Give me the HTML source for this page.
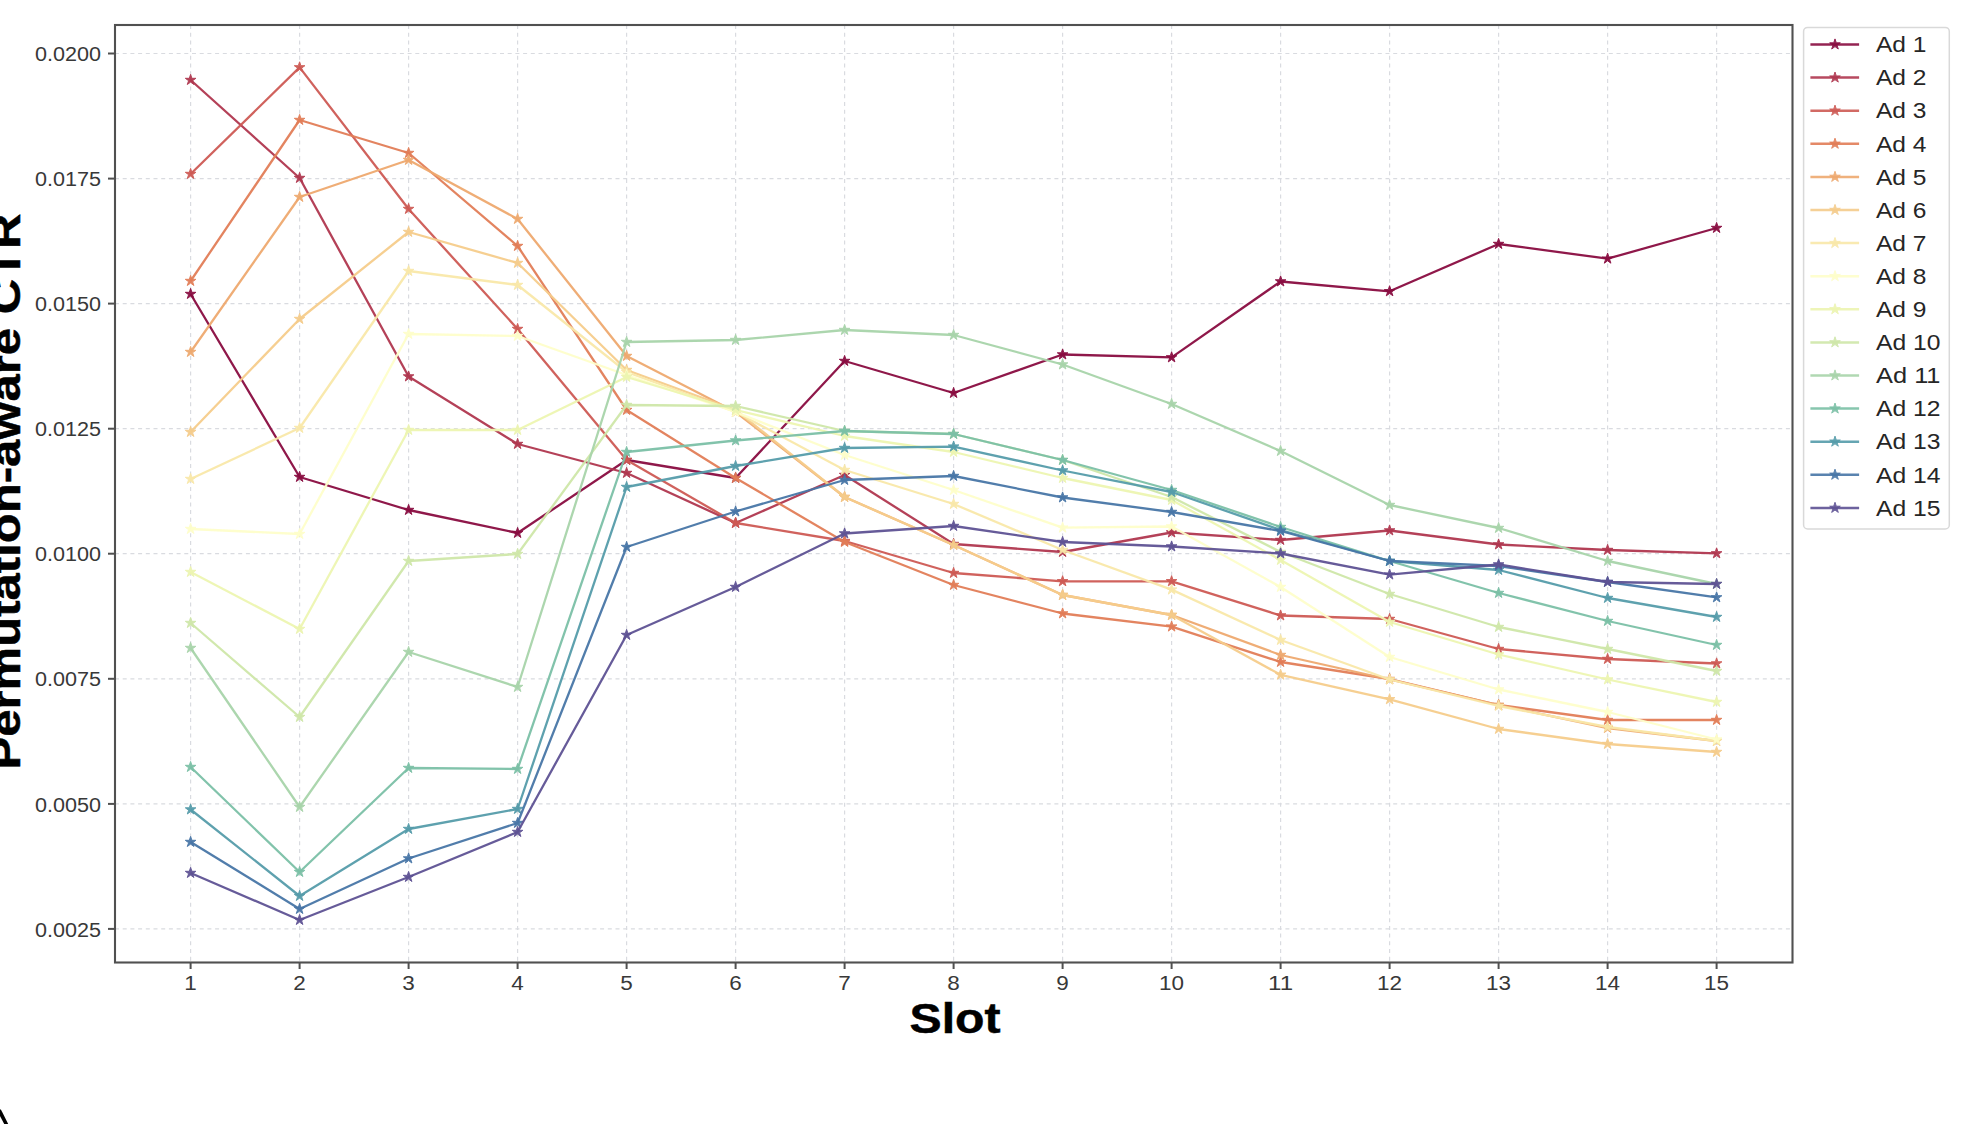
<!DOCTYPE html>
<html><head><meta charset="utf-8"><style>
html,body{margin:0;padding:0;background:#fff;}
body{width:1970px;height:1124px;position:relative;overflow:hidden;font-family:"Liberation Sans",sans-serif;}
</style></head><body>
<svg width="1970" height="1124" viewBox="0 0 1970 1124" style="position:absolute;left:0;top:0">
<g>
<g stroke="#d9dbe0" stroke-width="1.2" stroke-dasharray="4,3.7" fill="none"><line x1="190.6" y1="25" x2="190.6" y2="962"/><line x1="299.6" y1="25" x2="299.6" y2="962"/><line x1="408.6" y1="25" x2="408.6" y2="962"/><line x1="517.6" y1="25" x2="517.6" y2="962"/><line x1="626.6" y1="25" x2="626.6" y2="962"/><line x1="735.6" y1="25" x2="735.6" y2="962"/><line x1="844.6" y1="25" x2="844.6" y2="962"/><line x1="953.6" y1="25" x2="953.6" y2="962"/><line x1="1062.6" y1="25" x2="1062.6" y2="962"/><line x1="1171.6" y1="25" x2="1171.6" y2="962"/><line x1="1280.6" y1="25" x2="1280.6" y2="962"/><line x1="1389.6" y1="25" x2="1389.6" y2="962"/><line x1="1498.6" y1="25" x2="1498.6" y2="962"/><line x1="1607.6" y1="25" x2="1607.6" y2="962"/><line x1="1716.6" y1="25" x2="1716.6" y2="962"/><line x1="115" y1="928.9" x2="1792.5" y2="928.9"/><line x1="115" y1="803.9" x2="1792.5" y2="803.9"/><line x1="115" y1="678.8" x2="1792.5" y2="678.8"/><line x1="115" y1="553.7" x2="1792.5" y2="553.7"/><line x1="115" y1="428.7" x2="1792.5" y2="428.7"/><line x1="115" y1="303.6" x2="1792.5" y2="303.6"/><line x1="115" y1="178.6" x2="1792.5" y2="178.6"/><line x1="115" y1="53.5" x2="1792.5" y2="53.5"/></g>
<polyline points="190.6,294.0 299.6,477.0 408.6,510.0 517.6,533.0 626.6,460.0 735.6,478.0 844.6,361.0 953.6,393.0 1062.6,354.5 1171.6,357.4 1280.6,281.5 1389.6,291.3 1498.6,244.0 1607.6,258.7 1716.6,228.0" fill="none" stroke="#890c40" stroke-width="2.3" stroke-linejoin="round" opacity="0.95"/>
<path d="M190.6,288.4 L189.3,292.3 L185.3,292.3 L188.6,294.7 L187.3,298.5 L190.6,296.1 L193.9,298.5 L192.6,294.7 L195.9,292.3 L191.9,292.3ZM299.6,471.4 L298.3,475.3 L294.3,475.3 L297.6,477.7 L296.3,481.5 L299.6,479.1 L302.9,481.5 L301.6,477.7 L304.9,475.3 L300.9,475.3ZM408.6,504.4 L407.3,508.3 L403.3,508.3 L406.6,510.7 L405.3,514.5 L408.6,512.1 L411.9,514.5 L410.6,510.7 L413.9,508.3 L409.9,508.3ZM517.6,527.4 L516.3,531.3 L512.3,531.3 L515.6,533.7 L514.3,537.5 L517.6,535.1 L520.9,537.5 L519.6,533.7 L522.9,531.3 L518.9,531.3ZM626.6,454.4 L625.3,458.3 L621.3,458.3 L624.6,460.7 L623.3,464.5 L626.6,462.1 L629.9,464.5 L628.6,460.7 L631.9,458.3 L627.9,458.3ZM735.6,472.4 L734.3,476.3 L730.3,476.3 L733.6,478.7 L732.3,482.5 L735.6,480.1 L738.9,482.5 L737.6,478.7 L740.9,476.3 L736.9,476.3ZM844.6,355.4 L843.3,359.3 L839.3,359.3 L842.6,361.7 L841.3,365.5 L844.6,363.1 L847.9,365.5 L846.6,361.7 L849.9,359.3 L845.9,359.3ZM953.6,387.4 L952.3,391.3 L948.3,391.3 L951.6,393.7 L950.3,397.5 L953.6,395.1 L956.9,397.5 L955.6,393.7 L958.9,391.3 L954.9,391.3ZM1062.6,348.9 L1061.3,352.8 L1057.3,352.8 L1060.6,355.2 L1059.3,359.0 L1062.6,356.6 L1065.9,359.0 L1064.6,355.2 L1067.9,352.8 L1063.9,352.8ZM1171.6,351.8 L1170.3,355.7 L1166.3,355.7 L1169.6,358.1 L1168.3,361.9 L1171.6,359.5 L1174.9,361.9 L1173.6,358.1 L1176.9,355.7 L1172.9,355.7ZM1280.6,275.9 L1279.3,279.8 L1275.3,279.8 L1278.6,282.2 L1277.3,286.0 L1280.6,283.6 L1283.9,286.0 L1282.6,282.2 L1285.9,279.8 L1281.9,279.8ZM1389.6,285.7 L1388.3,289.6 L1384.3,289.6 L1387.6,292.0 L1386.3,295.8 L1389.6,293.4 L1392.9,295.8 L1391.6,292.0 L1394.9,289.6 L1390.9,289.6ZM1498.6,238.4 L1497.3,242.3 L1493.3,242.3 L1496.6,244.7 L1495.3,248.5 L1498.6,246.1 L1501.9,248.5 L1500.6,244.7 L1503.9,242.3 L1499.9,242.3ZM1607.6,253.1 L1606.3,257.0 L1602.3,257.0 L1605.6,259.4 L1604.3,263.2 L1607.6,260.8 L1610.9,263.2 L1609.6,259.4 L1612.9,257.0 L1608.9,257.0ZM1716.6,222.4 L1715.3,226.3 L1711.3,226.3 L1714.6,228.7 L1713.3,232.5 L1716.6,230.1 L1719.9,232.5 L1718.6,228.7 L1721.9,226.3 L1717.9,226.3Z" fill="#890c40" stroke="#890c40" stroke-width="1" opacity="0.95"/>
<polyline points="190.6,80.0 299.6,178.0 408.6,376.5 517.6,444.0 626.6,473.0 735.6,523.0 844.6,475.0 953.6,544.0 1062.6,552.0 1171.6,532.5 1280.6,540.0 1389.6,530.5 1498.6,544.5 1607.6,550.0 1716.6,553.4" fill="none" stroke="#b0374f" stroke-width="2.3" stroke-linejoin="round" opacity="0.95"/>
<path d="M190.6,74.4 L189.3,78.3 L185.3,78.3 L188.6,80.7 L187.3,84.5 L190.6,82.1 L193.9,84.5 L192.6,80.7 L195.9,78.3 L191.9,78.3ZM299.6,172.4 L298.3,176.3 L294.3,176.3 L297.6,178.7 L296.3,182.5 L299.6,180.1 L302.9,182.5 L301.6,178.7 L304.9,176.3 L300.9,176.3ZM408.6,370.9 L407.3,374.8 L403.3,374.8 L406.6,377.2 L405.3,381.0 L408.6,378.6 L411.9,381.0 L410.6,377.2 L413.9,374.8 L409.9,374.8ZM517.6,438.4 L516.3,442.3 L512.3,442.3 L515.6,444.7 L514.3,448.5 L517.6,446.1 L520.9,448.5 L519.6,444.7 L522.9,442.3 L518.9,442.3ZM626.6,467.4 L625.3,471.3 L621.3,471.3 L624.6,473.7 L623.3,477.5 L626.6,475.1 L629.9,477.5 L628.6,473.7 L631.9,471.3 L627.9,471.3ZM735.6,517.4 L734.3,521.3 L730.3,521.3 L733.6,523.7 L732.3,527.5 L735.6,525.1 L738.9,527.5 L737.6,523.7 L740.9,521.3 L736.9,521.3ZM844.6,469.4 L843.3,473.3 L839.3,473.3 L842.6,475.7 L841.3,479.5 L844.6,477.1 L847.9,479.5 L846.6,475.7 L849.9,473.3 L845.9,473.3ZM953.6,538.4 L952.3,542.3 L948.3,542.3 L951.6,544.7 L950.3,548.5 L953.6,546.1 L956.9,548.5 L955.6,544.7 L958.9,542.3 L954.9,542.3ZM1062.6,546.4 L1061.3,550.3 L1057.3,550.3 L1060.6,552.7 L1059.3,556.5 L1062.6,554.1 L1065.9,556.5 L1064.6,552.7 L1067.9,550.3 L1063.9,550.3ZM1171.6,526.9 L1170.3,530.8 L1166.3,530.8 L1169.6,533.2 L1168.3,537.0 L1171.6,534.6 L1174.9,537.0 L1173.6,533.2 L1176.9,530.8 L1172.9,530.8ZM1280.6,534.4 L1279.3,538.3 L1275.3,538.3 L1278.6,540.7 L1277.3,544.5 L1280.6,542.1 L1283.9,544.5 L1282.6,540.7 L1285.9,538.3 L1281.9,538.3ZM1389.6,524.9 L1388.3,528.8 L1384.3,528.8 L1387.6,531.2 L1386.3,535.0 L1389.6,532.6 L1392.9,535.0 L1391.6,531.2 L1394.9,528.8 L1390.9,528.8ZM1498.6,538.9 L1497.3,542.8 L1493.3,542.8 L1496.6,545.2 L1495.3,549.0 L1498.6,546.6 L1501.9,549.0 L1500.6,545.2 L1503.9,542.8 L1499.9,542.8ZM1607.6,544.4 L1606.3,548.3 L1602.3,548.3 L1605.6,550.7 L1604.3,554.5 L1607.6,552.1 L1610.9,554.5 L1609.6,550.7 L1612.9,548.3 L1608.9,548.3ZM1716.6,547.8 L1715.3,551.7 L1711.3,551.7 L1714.6,554.1 L1713.3,557.9 L1716.6,555.5 L1719.9,557.9 L1718.6,554.1 L1721.9,551.7 L1717.9,551.7Z" fill="#b0374f" stroke="#b0374f" stroke-width="1" opacity="0.95"/>
<polyline points="190.6,174.0 299.6,67.4 408.6,209.0 517.6,329.0 626.6,460.0 735.6,523.0 844.6,541.0 953.6,573.0 1062.6,581.3 1171.6,581.3 1280.6,615.5 1389.6,619.0 1498.6,649.0 1607.6,659.0 1716.6,663.5" fill="none" stroke="#ce5a54" stroke-width="2.3" stroke-linejoin="round" opacity="0.95"/>
<path d="M190.6,168.4 L189.3,172.3 L185.3,172.3 L188.6,174.7 L187.3,178.5 L190.6,176.1 L193.9,178.5 L192.6,174.7 L195.9,172.3 L191.9,172.3ZM299.6,61.8 L298.3,65.7 L294.3,65.7 L297.6,68.1 L296.3,71.9 L299.6,69.5 L302.9,71.9 L301.6,68.1 L304.9,65.7 L300.9,65.7ZM408.6,203.4 L407.3,207.3 L403.3,207.3 L406.6,209.7 L405.3,213.5 L408.6,211.1 L411.9,213.5 L410.6,209.7 L413.9,207.3 L409.9,207.3ZM517.6,323.4 L516.3,327.3 L512.3,327.3 L515.6,329.7 L514.3,333.5 L517.6,331.1 L520.9,333.5 L519.6,329.7 L522.9,327.3 L518.9,327.3ZM626.6,454.4 L625.3,458.3 L621.3,458.3 L624.6,460.7 L623.3,464.5 L626.6,462.1 L629.9,464.5 L628.6,460.7 L631.9,458.3 L627.9,458.3ZM735.6,517.4 L734.3,521.3 L730.3,521.3 L733.6,523.7 L732.3,527.5 L735.6,525.1 L738.9,527.5 L737.6,523.7 L740.9,521.3 L736.9,521.3ZM844.6,535.4 L843.3,539.3 L839.3,539.3 L842.6,541.7 L841.3,545.5 L844.6,543.1 L847.9,545.5 L846.6,541.7 L849.9,539.3 L845.9,539.3ZM953.6,567.4 L952.3,571.3 L948.3,571.3 L951.6,573.7 L950.3,577.5 L953.6,575.1 L956.9,577.5 L955.6,573.7 L958.9,571.3 L954.9,571.3ZM1062.6,575.7 L1061.3,579.6 L1057.3,579.6 L1060.6,582.0 L1059.3,585.8 L1062.6,583.4 L1065.9,585.8 L1064.6,582.0 L1067.9,579.6 L1063.9,579.6ZM1171.6,575.7 L1170.3,579.6 L1166.3,579.6 L1169.6,582.0 L1168.3,585.8 L1171.6,583.4 L1174.9,585.8 L1173.6,582.0 L1176.9,579.6 L1172.9,579.6ZM1280.6,609.9 L1279.3,613.8 L1275.3,613.8 L1278.6,616.2 L1277.3,620.0 L1280.6,617.6 L1283.9,620.0 L1282.6,616.2 L1285.9,613.8 L1281.9,613.8ZM1389.6,613.4 L1388.3,617.3 L1384.3,617.3 L1387.6,619.7 L1386.3,623.5 L1389.6,621.1 L1392.9,623.5 L1391.6,619.7 L1394.9,617.3 L1390.9,617.3ZM1498.6,643.4 L1497.3,647.3 L1493.3,647.3 L1496.6,649.7 L1495.3,653.5 L1498.6,651.1 L1501.9,653.5 L1500.6,649.7 L1503.9,647.3 L1499.9,647.3ZM1607.6,653.4 L1606.3,657.3 L1602.3,657.3 L1605.6,659.7 L1604.3,663.5 L1607.6,661.1 L1610.9,663.5 L1609.6,659.7 L1612.9,657.3 L1608.9,657.3ZM1716.6,657.9 L1715.3,661.8 L1711.3,661.8 L1714.6,664.2 L1713.3,668.0 L1716.6,665.6 L1719.9,668.0 L1718.6,664.2 L1721.9,661.8 L1717.9,661.8Z" fill="#ce5a54" stroke="#ce5a54" stroke-width="1" opacity="0.95"/>
<polyline points="190.6,281.0 299.6,120.0 408.6,153.0 517.6,246.0 626.6,410.0 735.6,478.0 844.6,542.0 953.6,585.0 1062.6,613.5 1171.6,626.6 1280.6,662.0 1389.6,679.0 1498.6,705.0 1607.6,720.0 1716.6,720.0" fill="none" stroke="#e27d57" stroke-width="2.3" stroke-linejoin="round" opacity="0.95"/>
<path d="M190.6,275.4 L189.3,279.3 L185.3,279.3 L188.6,281.7 L187.3,285.5 L190.6,283.1 L193.9,285.5 L192.6,281.7 L195.9,279.3 L191.9,279.3ZM299.6,114.4 L298.3,118.3 L294.3,118.3 L297.6,120.7 L296.3,124.5 L299.6,122.1 L302.9,124.5 L301.6,120.7 L304.9,118.3 L300.9,118.3ZM408.6,147.4 L407.3,151.3 L403.3,151.3 L406.6,153.7 L405.3,157.5 L408.6,155.1 L411.9,157.5 L410.6,153.7 L413.9,151.3 L409.9,151.3ZM517.6,240.4 L516.3,244.3 L512.3,244.3 L515.6,246.7 L514.3,250.5 L517.6,248.1 L520.9,250.5 L519.6,246.7 L522.9,244.3 L518.9,244.3ZM626.6,404.4 L625.3,408.3 L621.3,408.3 L624.6,410.7 L623.3,414.5 L626.6,412.1 L629.9,414.5 L628.6,410.7 L631.9,408.3 L627.9,408.3ZM735.6,472.4 L734.3,476.3 L730.3,476.3 L733.6,478.7 L732.3,482.5 L735.6,480.1 L738.9,482.5 L737.6,478.7 L740.9,476.3 L736.9,476.3ZM844.6,536.4 L843.3,540.3 L839.3,540.3 L842.6,542.7 L841.3,546.5 L844.6,544.1 L847.9,546.5 L846.6,542.7 L849.9,540.3 L845.9,540.3ZM953.6,579.4 L952.3,583.3 L948.3,583.3 L951.6,585.7 L950.3,589.5 L953.6,587.1 L956.9,589.5 L955.6,585.7 L958.9,583.3 L954.9,583.3ZM1062.6,607.9 L1061.3,611.8 L1057.3,611.8 L1060.6,614.2 L1059.3,618.0 L1062.6,615.6 L1065.9,618.0 L1064.6,614.2 L1067.9,611.8 L1063.9,611.8ZM1171.6,621.0 L1170.3,624.9 L1166.3,624.9 L1169.6,627.3 L1168.3,631.1 L1171.6,628.7 L1174.9,631.1 L1173.6,627.3 L1176.9,624.9 L1172.9,624.9ZM1280.6,656.4 L1279.3,660.3 L1275.3,660.3 L1278.6,662.7 L1277.3,666.5 L1280.6,664.1 L1283.9,666.5 L1282.6,662.7 L1285.9,660.3 L1281.9,660.3ZM1389.6,673.4 L1388.3,677.3 L1384.3,677.3 L1387.6,679.7 L1386.3,683.5 L1389.6,681.1 L1392.9,683.5 L1391.6,679.7 L1394.9,677.3 L1390.9,677.3ZM1498.6,699.4 L1497.3,703.3 L1493.3,703.3 L1496.6,705.7 L1495.3,709.5 L1498.6,707.1 L1501.9,709.5 L1500.6,705.7 L1503.9,703.3 L1499.9,703.3ZM1607.6,714.4 L1606.3,718.3 L1602.3,718.3 L1605.6,720.7 L1604.3,724.5 L1607.6,722.1 L1610.9,724.5 L1609.6,720.7 L1612.9,718.3 L1608.9,718.3ZM1716.6,714.4 L1715.3,718.3 L1711.3,718.3 L1714.6,720.7 L1713.3,724.5 L1716.6,722.1 L1719.9,724.5 L1718.6,720.7 L1721.9,718.3 L1717.9,718.3Z" fill="#e27d57" stroke="#e27d57" stroke-width="1" opacity="0.95"/>
<polyline points="190.6,352.0 299.6,197.0 408.6,160.0 517.6,219.0 626.6,356.0 735.6,412.0 844.6,497.0 953.6,545.0 1062.6,595.0 1171.6,615.0 1280.6,655.0 1389.6,679.5 1498.6,705.0 1607.6,728.0 1716.6,741.0" fill="none" stroke="#eea96f" stroke-width="2.3" stroke-linejoin="round" opacity="0.95"/>
<path d="M190.6,346.4 L189.3,350.3 L185.3,350.3 L188.6,352.7 L187.3,356.5 L190.6,354.1 L193.9,356.5 L192.6,352.7 L195.9,350.3 L191.9,350.3ZM299.6,191.4 L298.3,195.3 L294.3,195.3 L297.6,197.7 L296.3,201.5 L299.6,199.1 L302.9,201.5 L301.6,197.7 L304.9,195.3 L300.9,195.3ZM408.6,154.4 L407.3,158.3 L403.3,158.3 L406.6,160.7 L405.3,164.5 L408.6,162.1 L411.9,164.5 L410.6,160.7 L413.9,158.3 L409.9,158.3ZM517.6,213.4 L516.3,217.3 L512.3,217.3 L515.6,219.7 L514.3,223.5 L517.6,221.1 L520.9,223.5 L519.6,219.7 L522.9,217.3 L518.9,217.3ZM626.6,350.4 L625.3,354.3 L621.3,354.3 L624.6,356.7 L623.3,360.5 L626.6,358.1 L629.9,360.5 L628.6,356.7 L631.9,354.3 L627.9,354.3ZM735.6,406.4 L734.3,410.3 L730.3,410.3 L733.6,412.7 L732.3,416.5 L735.6,414.1 L738.9,416.5 L737.6,412.7 L740.9,410.3 L736.9,410.3ZM844.6,491.4 L843.3,495.3 L839.3,495.3 L842.6,497.7 L841.3,501.5 L844.6,499.1 L847.9,501.5 L846.6,497.7 L849.9,495.3 L845.9,495.3ZM953.6,539.4 L952.3,543.3 L948.3,543.3 L951.6,545.7 L950.3,549.5 L953.6,547.1 L956.9,549.5 L955.6,545.7 L958.9,543.3 L954.9,543.3ZM1062.6,589.4 L1061.3,593.3 L1057.3,593.3 L1060.6,595.7 L1059.3,599.5 L1062.6,597.1 L1065.9,599.5 L1064.6,595.7 L1067.9,593.3 L1063.9,593.3ZM1171.6,609.4 L1170.3,613.3 L1166.3,613.3 L1169.6,615.7 L1168.3,619.5 L1171.6,617.1 L1174.9,619.5 L1173.6,615.7 L1176.9,613.3 L1172.9,613.3ZM1280.6,649.4 L1279.3,653.3 L1275.3,653.3 L1278.6,655.7 L1277.3,659.5 L1280.6,657.1 L1283.9,659.5 L1282.6,655.7 L1285.9,653.3 L1281.9,653.3ZM1389.6,673.9 L1388.3,677.8 L1384.3,677.8 L1387.6,680.2 L1386.3,684.0 L1389.6,681.6 L1392.9,684.0 L1391.6,680.2 L1394.9,677.8 L1390.9,677.8ZM1498.6,699.4 L1497.3,703.3 L1493.3,703.3 L1496.6,705.7 L1495.3,709.5 L1498.6,707.1 L1501.9,709.5 L1500.6,705.7 L1503.9,703.3 L1499.9,703.3ZM1607.6,722.4 L1606.3,726.3 L1602.3,726.3 L1605.6,728.7 L1604.3,732.5 L1607.6,730.1 L1610.9,732.5 L1609.6,728.7 L1612.9,726.3 L1608.9,726.3ZM1716.6,735.4 L1715.3,739.3 L1711.3,739.3 L1714.6,741.7 L1713.3,745.5 L1716.6,743.1 L1719.9,745.5 L1718.6,741.7 L1721.9,739.3 L1717.9,739.3Z" fill="#eea96f" stroke="#eea96f" stroke-width="1" opacity="0.95"/>
<polyline points="190.6,432.0 299.6,319.0 408.6,232.0 517.6,263.0 626.6,370.0 735.6,410.0 844.6,497.0 953.6,545.0 1062.6,595.0 1171.6,615.0 1280.6,674.8 1389.6,699.3 1498.6,729.0 1607.6,744.0 1716.6,752.0" fill="none" stroke="#f5cc8b" stroke-width="2.3" stroke-linejoin="round" opacity="0.95"/>
<path d="M190.6,426.4 L189.3,430.3 L185.3,430.3 L188.6,432.7 L187.3,436.5 L190.6,434.1 L193.9,436.5 L192.6,432.7 L195.9,430.3 L191.9,430.3ZM299.6,313.4 L298.3,317.3 L294.3,317.3 L297.6,319.7 L296.3,323.5 L299.6,321.1 L302.9,323.5 L301.6,319.7 L304.9,317.3 L300.9,317.3ZM408.6,226.4 L407.3,230.3 L403.3,230.3 L406.6,232.7 L405.3,236.5 L408.6,234.1 L411.9,236.5 L410.6,232.7 L413.9,230.3 L409.9,230.3ZM517.6,257.4 L516.3,261.3 L512.3,261.3 L515.6,263.7 L514.3,267.5 L517.6,265.1 L520.9,267.5 L519.6,263.7 L522.9,261.3 L518.9,261.3ZM626.6,364.4 L625.3,368.3 L621.3,368.3 L624.6,370.7 L623.3,374.5 L626.6,372.1 L629.9,374.5 L628.6,370.7 L631.9,368.3 L627.9,368.3ZM735.6,404.4 L734.3,408.3 L730.3,408.3 L733.6,410.7 L732.3,414.5 L735.6,412.1 L738.9,414.5 L737.6,410.7 L740.9,408.3 L736.9,408.3ZM844.6,491.4 L843.3,495.3 L839.3,495.3 L842.6,497.7 L841.3,501.5 L844.6,499.1 L847.9,501.5 L846.6,497.7 L849.9,495.3 L845.9,495.3ZM953.6,539.4 L952.3,543.3 L948.3,543.3 L951.6,545.7 L950.3,549.5 L953.6,547.1 L956.9,549.5 L955.6,545.7 L958.9,543.3 L954.9,543.3ZM1062.6,589.4 L1061.3,593.3 L1057.3,593.3 L1060.6,595.7 L1059.3,599.5 L1062.6,597.1 L1065.9,599.5 L1064.6,595.7 L1067.9,593.3 L1063.9,593.3ZM1171.6,609.4 L1170.3,613.3 L1166.3,613.3 L1169.6,615.7 L1168.3,619.5 L1171.6,617.1 L1174.9,619.5 L1173.6,615.7 L1176.9,613.3 L1172.9,613.3ZM1280.6,669.2 L1279.3,673.1 L1275.3,673.1 L1278.6,675.5 L1277.3,679.3 L1280.6,676.9 L1283.9,679.3 L1282.6,675.5 L1285.9,673.1 L1281.9,673.1ZM1389.6,693.7 L1388.3,697.6 L1384.3,697.6 L1387.6,700.0 L1386.3,703.8 L1389.6,701.4 L1392.9,703.8 L1391.6,700.0 L1394.9,697.6 L1390.9,697.6ZM1498.6,723.4 L1497.3,727.3 L1493.3,727.3 L1496.6,729.7 L1495.3,733.5 L1498.6,731.1 L1501.9,733.5 L1500.6,729.7 L1503.9,727.3 L1499.9,727.3ZM1607.6,738.4 L1606.3,742.3 L1602.3,742.3 L1605.6,744.7 L1604.3,748.5 L1607.6,746.1 L1610.9,748.5 L1609.6,744.7 L1612.9,742.3 L1608.9,742.3ZM1716.6,746.4 L1715.3,750.3 L1711.3,750.3 L1714.6,752.7 L1713.3,756.5 L1716.6,754.1 L1719.9,756.5 L1718.6,752.7 L1721.9,750.3 L1717.9,750.3Z" fill="#f5cc8b" stroke="#f5cc8b" stroke-width="1" opacity="0.95"/>
<polyline points="190.6,479.0 299.6,428.0 408.6,271.0 517.6,285.0 626.6,372.0 735.6,412.0 844.6,470.0 953.6,504.0 1062.6,550.0 1171.6,589.6 1280.6,640.0 1389.6,679.5 1498.6,706.0 1607.6,727.0 1716.6,741.0" fill="none" stroke="#f9e8a9" stroke-width="2.3" stroke-linejoin="round" opacity="0.95"/>
<path d="M190.6,473.4 L189.3,477.3 L185.3,477.3 L188.6,479.7 L187.3,483.5 L190.6,481.1 L193.9,483.5 L192.6,479.7 L195.9,477.3 L191.9,477.3ZM299.6,422.4 L298.3,426.3 L294.3,426.3 L297.6,428.7 L296.3,432.5 L299.6,430.1 L302.9,432.5 L301.6,428.7 L304.9,426.3 L300.9,426.3ZM408.6,265.4 L407.3,269.3 L403.3,269.3 L406.6,271.7 L405.3,275.5 L408.6,273.1 L411.9,275.5 L410.6,271.7 L413.9,269.3 L409.9,269.3ZM517.6,279.4 L516.3,283.3 L512.3,283.3 L515.6,285.7 L514.3,289.5 L517.6,287.1 L520.9,289.5 L519.6,285.7 L522.9,283.3 L518.9,283.3ZM626.6,366.4 L625.3,370.3 L621.3,370.3 L624.6,372.7 L623.3,376.5 L626.6,374.1 L629.9,376.5 L628.6,372.7 L631.9,370.3 L627.9,370.3ZM735.6,406.4 L734.3,410.3 L730.3,410.3 L733.6,412.7 L732.3,416.5 L735.6,414.1 L738.9,416.5 L737.6,412.7 L740.9,410.3 L736.9,410.3ZM844.6,464.4 L843.3,468.3 L839.3,468.3 L842.6,470.7 L841.3,474.5 L844.6,472.1 L847.9,474.5 L846.6,470.7 L849.9,468.3 L845.9,468.3ZM953.6,498.4 L952.3,502.3 L948.3,502.3 L951.6,504.7 L950.3,508.5 L953.6,506.1 L956.9,508.5 L955.6,504.7 L958.9,502.3 L954.9,502.3ZM1062.6,544.4 L1061.3,548.3 L1057.3,548.3 L1060.6,550.7 L1059.3,554.5 L1062.6,552.1 L1065.9,554.5 L1064.6,550.7 L1067.9,548.3 L1063.9,548.3ZM1171.6,584.0 L1170.3,587.9 L1166.3,587.9 L1169.6,590.3 L1168.3,594.1 L1171.6,591.7 L1174.9,594.1 L1173.6,590.3 L1176.9,587.9 L1172.9,587.9ZM1280.6,634.4 L1279.3,638.3 L1275.3,638.3 L1278.6,640.7 L1277.3,644.5 L1280.6,642.1 L1283.9,644.5 L1282.6,640.7 L1285.9,638.3 L1281.9,638.3ZM1389.6,673.9 L1388.3,677.8 L1384.3,677.8 L1387.6,680.2 L1386.3,684.0 L1389.6,681.6 L1392.9,684.0 L1391.6,680.2 L1394.9,677.8 L1390.9,677.8ZM1498.6,700.4 L1497.3,704.3 L1493.3,704.3 L1496.6,706.7 L1495.3,710.5 L1498.6,708.1 L1501.9,710.5 L1500.6,706.7 L1503.9,704.3 L1499.9,704.3ZM1607.6,721.4 L1606.3,725.3 L1602.3,725.3 L1605.6,727.7 L1604.3,731.5 L1607.6,729.1 L1610.9,731.5 L1609.6,727.7 L1612.9,725.3 L1608.9,725.3ZM1716.6,735.4 L1715.3,739.3 L1711.3,739.3 L1714.6,741.7 L1713.3,745.5 L1716.6,743.1 L1719.9,745.5 L1718.6,741.7 L1721.9,739.3 L1717.9,739.3Z" fill="#f9e8a9" stroke="#f9e8a9" stroke-width="1" opacity="0.95"/>
<polyline points="190.6,529.0 299.6,534.0 408.6,334.0 517.6,336.0 626.6,375.0 735.6,412.0 844.6,455.0 953.6,490.0 1062.6,527.7 1171.6,526.5 1280.6,587.0 1389.6,657.0 1498.6,689.5 1607.6,712.0 1716.6,739.5" fill="none" stroke="#fefeca" stroke-width="2.3" stroke-linejoin="round" opacity="0.95"/>
<path d="M190.6,523.4 L189.3,527.3 L185.3,527.3 L188.6,529.7 L187.3,533.5 L190.6,531.1 L193.9,533.5 L192.6,529.7 L195.9,527.3 L191.9,527.3ZM299.6,528.4 L298.3,532.3 L294.3,532.3 L297.6,534.7 L296.3,538.5 L299.6,536.1 L302.9,538.5 L301.6,534.7 L304.9,532.3 L300.9,532.3ZM408.6,328.4 L407.3,332.3 L403.3,332.3 L406.6,334.7 L405.3,338.5 L408.6,336.1 L411.9,338.5 L410.6,334.7 L413.9,332.3 L409.9,332.3ZM517.6,330.4 L516.3,334.3 L512.3,334.3 L515.6,336.7 L514.3,340.5 L517.6,338.1 L520.9,340.5 L519.6,336.7 L522.9,334.3 L518.9,334.3ZM626.6,369.4 L625.3,373.3 L621.3,373.3 L624.6,375.7 L623.3,379.5 L626.6,377.1 L629.9,379.5 L628.6,375.7 L631.9,373.3 L627.9,373.3ZM735.6,406.4 L734.3,410.3 L730.3,410.3 L733.6,412.7 L732.3,416.5 L735.6,414.1 L738.9,416.5 L737.6,412.7 L740.9,410.3 L736.9,410.3ZM844.6,449.4 L843.3,453.3 L839.3,453.3 L842.6,455.7 L841.3,459.5 L844.6,457.1 L847.9,459.5 L846.6,455.7 L849.9,453.3 L845.9,453.3ZM953.6,484.4 L952.3,488.3 L948.3,488.3 L951.6,490.7 L950.3,494.5 L953.6,492.1 L956.9,494.5 L955.6,490.7 L958.9,488.3 L954.9,488.3ZM1062.6,522.1 L1061.3,526.0 L1057.3,526.0 L1060.6,528.4 L1059.3,532.2 L1062.6,529.8 L1065.9,532.2 L1064.6,528.4 L1067.9,526.0 L1063.9,526.0ZM1171.6,520.9 L1170.3,524.8 L1166.3,524.8 L1169.6,527.2 L1168.3,531.0 L1171.6,528.6 L1174.9,531.0 L1173.6,527.2 L1176.9,524.8 L1172.9,524.8ZM1280.6,581.4 L1279.3,585.3 L1275.3,585.3 L1278.6,587.7 L1277.3,591.5 L1280.6,589.1 L1283.9,591.5 L1282.6,587.7 L1285.9,585.3 L1281.9,585.3ZM1389.6,651.4 L1388.3,655.3 L1384.3,655.3 L1387.6,657.7 L1386.3,661.5 L1389.6,659.1 L1392.9,661.5 L1391.6,657.7 L1394.9,655.3 L1390.9,655.3ZM1498.6,683.9 L1497.3,687.8 L1493.3,687.8 L1496.6,690.2 L1495.3,694.0 L1498.6,691.6 L1501.9,694.0 L1500.6,690.2 L1503.9,687.8 L1499.9,687.8ZM1607.6,706.4 L1606.3,710.3 L1602.3,710.3 L1605.6,712.7 L1604.3,716.5 L1607.6,714.1 L1610.9,716.5 L1609.6,712.7 L1612.9,710.3 L1608.9,710.3ZM1716.6,733.9 L1715.3,737.8 L1711.3,737.8 L1714.6,740.2 L1713.3,744.0 L1716.6,741.6 L1719.9,744.0 L1718.6,740.2 L1721.9,737.8 L1717.9,737.8Z" fill="#fefeca" stroke="#fefeca" stroke-width="1" opacity="0.95"/>
<polyline points="190.6,572.0 299.6,629.0 408.6,430.0 517.6,430.0 626.6,377.0 735.6,410.0 844.6,436.0 953.6,452.0 1062.6,478.0 1171.6,500.0 1280.6,560.0 1389.6,622.0 1498.6,654.5 1607.6,679.5 1716.6,702.0" fill="none" stroke="#edf5b1" stroke-width="2.3" stroke-linejoin="round" opacity="0.95"/>
<path d="M190.6,566.4 L189.3,570.3 L185.3,570.3 L188.6,572.7 L187.3,576.5 L190.6,574.1 L193.9,576.5 L192.6,572.7 L195.9,570.3 L191.9,570.3ZM299.6,623.4 L298.3,627.3 L294.3,627.3 L297.6,629.7 L296.3,633.5 L299.6,631.1 L302.9,633.5 L301.6,629.7 L304.9,627.3 L300.9,627.3ZM408.6,424.4 L407.3,428.3 L403.3,428.3 L406.6,430.7 L405.3,434.5 L408.6,432.1 L411.9,434.5 L410.6,430.7 L413.9,428.3 L409.9,428.3ZM517.6,424.4 L516.3,428.3 L512.3,428.3 L515.6,430.7 L514.3,434.5 L517.6,432.1 L520.9,434.5 L519.6,430.7 L522.9,428.3 L518.9,428.3ZM626.6,371.4 L625.3,375.3 L621.3,375.3 L624.6,377.7 L623.3,381.5 L626.6,379.1 L629.9,381.5 L628.6,377.7 L631.9,375.3 L627.9,375.3ZM735.6,404.4 L734.3,408.3 L730.3,408.3 L733.6,410.7 L732.3,414.5 L735.6,412.1 L738.9,414.5 L737.6,410.7 L740.9,408.3 L736.9,408.3ZM844.6,430.4 L843.3,434.3 L839.3,434.3 L842.6,436.7 L841.3,440.5 L844.6,438.1 L847.9,440.5 L846.6,436.7 L849.9,434.3 L845.9,434.3ZM953.6,446.4 L952.3,450.3 L948.3,450.3 L951.6,452.7 L950.3,456.5 L953.6,454.1 L956.9,456.5 L955.6,452.7 L958.9,450.3 L954.9,450.3ZM1062.6,472.4 L1061.3,476.3 L1057.3,476.3 L1060.6,478.7 L1059.3,482.5 L1062.6,480.1 L1065.9,482.5 L1064.6,478.7 L1067.9,476.3 L1063.9,476.3ZM1171.6,494.4 L1170.3,498.3 L1166.3,498.3 L1169.6,500.7 L1168.3,504.5 L1171.6,502.1 L1174.9,504.5 L1173.6,500.7 L1176.9,498.3 L1172.9,498.3ZM1280.6,554.4 L1279.3,558.3 L1275.3,558.3 L1278.6,560.7 L1277.3,564.5 L1280.6,562.1 L1283.9,564.5 L1282.6,560.7 L1285.9,558.3 L1281.9,558.3ZM1389.6,616.4 L1388.3,620.3 L1384.3,620.3 L1387.6,622.7 L1386.3,626.5 L1389.6,624.1 L1392.9,626.5 L1391.6,622.7 L1394.9,620.3 L1390.9,620.3ZM1498.6,648.9 L1497.3,652.8 L1493.3,652.8 L1496.6,655.2 L1495.3,659.0 L1498.6,656.6 L1501.9,659.0 L1500.6,655.2 L1503.9,652.8 L1499.9,652.8ZM1607.6,673.9 L1606.3,677.8 L1602.3,677.8 L1605.6,680.2 L1604.3,684.0 L1607.6,681.6 L1610.9,684.0 L1609.6,680.2 L1612.9,677.8 L1608.9,677.8ZM1716.6,696.4 L1715.3,700.3 L1711.3,700.3 L1714.6,702.7 L1713.3,706.5 L1716.6,704.1 L1719.9,706.5 L1718.6,702.7 L1721.9,700.3 L1717.9,700.3Z" fill="#edf5b1" stroke="#edf5b1" stroke-width="1" opacity="0.95"/>
<polyline points="190.6,623.0 299.6,717.0 408.6,561.0 517.6,554.0 626.6,405.0 735.6,406.0 844.6,431.0 953.6,434.0 1062.6,460.0 1171.6,497.0 1280.6,552.0 1389.6,594.0 1498.6,627.0 1607.6,649.0 1716.6,671.0" fill="none" stroke="#cfe7a9" stroke-width="2.3" stroke-linejoin="round" opacity="0.95"/>
<path d="M190.6,617.4 L189.3,621.3 L185.3,621.3 L188.6,623.7 L187.3,627.5 L190.6,625.1 L193.9,627.5 L192.6,623.7 L195.9,621.3 L191.9,621.3ZM299.6,711.4 L298.3,715.3 L294.3,715.3 L297.6,717.7 L296.3,721.5 L299.6,719.1 L302.9,721.5 L301.6,717.7 L304.9,715.3 L300.9,715.3ZM408.6,555.4 L407.3,559.3 L403.3,559.3 L406.6,561.7 L405.3,565.5 L408.6,563.1 L411.9,565.5 L410.6,561.7 L413.9,559.3 L409.9,559.3ZM517.6,548.4 L516.3,552.3 L512.3,552.3 L515.6,554.7 L514.3,558.5 L517.6,556.1 L520.9,558.5 L519.6,554.7 L522.9,552.3 L518.9,552.3ZM626.6,399.4 L625.3,403.3 L621.3,403.3 L624.6,405.7 L623.3,409.5 L626.6,407.1 L629.9,409.5 L628.6,405.7 L631.9,403.3 L627.9,403.3ZM735.6,400.4 L734.3,404.3 L730.3,404.3 L733.6,406.7 L732.3,410.5 L735.6,408.1 L738.9,410.5 L737.6,406.7 L740.9,404.3 L736.9,404.3ZM844.6,425.4 L843.3,429.3 L839.3,429.3 L842.6,431.7 L841.3,435.5 L844.6,433.1 L847.9,435.5 L846.6,431.7 L849.9,429.3 L845.9,429.3ZM953.6,428.4 L952.3,432.3 L948.3,432.3 L951.6,434.7 L950.3,438.5 L953.6,436.1 L956.9,438.5 L955.6,434.7 L958.9,432.3 L954.9,432.3ZM1062.6,454.4 L1061.3,458.3 L1057.3,458.3 L1060.6,460.7 L1059.3,464.5 L1062.6,462.1 L1065.9,464.5 L1064.6,460.7 L1067.9,458.3 L1063.9,458.3ZM1171.6,491.4 L1170.3,495.3 L1166.3,495.3 L1169.6,497.7 L1168.3,501.5 L1171.6,499.1 L1174.9,501.5 L1173.6,497.7 L1176.9,495.3 L1172.9,495.3ZM1280.6,546.4 L1279.3,550.3 L1275.3,550.3 L1278.6,552.7 L1277.3,556.5 L1280.6,554.1 L1283.9,556.5 L1282.6,552.7 L1285.9,550.3 L1281.9,550.3ZM1389.6,588.4 L1388.3,592.3 L1384.3,592.3 L1387.6,594.7 L1386.3,598.5 L1389.6,596.1 L1392.9,598.5 L1391.6,594.7 L1394.9,592.3 L1390.9,592.3ZM1498.6,621.4 L1497.3,625.3 L1493.3,625.3 L1496.6,627.7 L1495.3,631.5 L1498.6,629.1 L1501.9,631.5 L1500.6,627.7 L1503.9,625.3 L1499.9,625.3ZM1607.6,643.4 L1606.3,647.3 L1602.3,647.3 L1605.6,649.7 L1604.3,653.5 L1607.6,651.1 L1610.9,653.5 L1609.6,649.7 L1612.9,647.3 L1608.9,647.3ZM1716.6,665.4 L1715.3,669.3 L1711.3,669.3 L1714.6,671.7 L1713.3,675.5 L1716.6,673.1 L1719.9,675.5 L1718.6,671.7 L1721.9,669.3 L1717.9,669.3Z" fill="#cfe7a9" stroke="#cfe7a9" stroke-width="1" opacity="0.95"/>
<polyline points="190.6,648.0 299.6,807.0 408.6,652.0 517.6,687.0 626.6,342.0 735.6,340.0 844.6,330.0 953.6,335.0 1062.6,364.5 1171.6,404.0 1280.6,451.0 1389.6,505.0 1498.6,528.0 1607.6,561.0 1716.6,584.0" fill="none" stroke="#a8d4aa" stroke-width="2.3" stroke-linejoin="round" opacity="0.95"/>
<path d="M190.6,642.4 L189.3,646.3 L185.3,646.3 L188.6,648.7 L187.3,652.5 L190.6,650.1 L193.9,652.5 L192.6,648.7 L195.9,646.3 L191.9,646.3ZM299.6,801.4 L298.3,805.3 L294.3,805.3 L297.6,807.7 L296.3,811.5 L299.6,809.1 L302.9,811.5 L301.6,807.7 L304.9,805.3 L300.9,805.3ZM408.6,646.4 L407.3,650.3 L403.3,650.3 L406.6,652.7 L405.3,656.5 L408.6,654.1 L411.9,656.5 L410.6,652.7 L413.9,650.3 L409.9,650.3ZM517.6,681.4 L516.3,685.3 L512.3,685.3 L515.6,687.7 L514.3,691.5 L517.6,689.1 L520.9,691.5 L519.6,687.7 L522.9,685.3 L518.9,685.3ZM626.6,336.4 L625.3,340.3 L621.3,340.3 L624.6,342.7 L623.3,346.5 L626.6,344.1 L629.9,346.5 L628.6,342.7 L631.9,340.3 L627.9,340.3ZM735.6,334.4 L734.3,338.3 L730.3,338.3 L733.6,340.7 L732.3,344.5 L735.6,342.1 L738.9,344.5 L737.6,340.7 L740.9,338.3 L736.9,338.3ZM844.6,324.4 L843.3,328.3 L839.3,328.3 L842.6,330.7 L841.3,334.5 L844.6,332.1 L847.9,334.5 L846.6,330.7 L849.9,328.3 L845.9,328.3ZM953.6,329.4 L952.3,333.3 L948.3,333.3 L951.6,335.7 L950.3,339.5 L953.6,337.1 L956.9,339.5 L955.6,335.7 L958.9,333.3 L954.9,333.3ZM1062.6,358.9 L1061.3,362.8 L1057.3,362.8 L1060.6,365.2 L1059.3,369.0 L1062.6,366.6 L1065.9,369.0 L1064.6,365.2 L1067.9,362.8 L1063.9,362.8ZM1171.6,398.4 L1170.3,402.3 L1166.3,402.3 L1169.6,404.7 L1168.3,408.5 L1171.6,406.1 L1174.9,408.5 L1173.6,404.7 L1176.9,402.3 L1172.9,402.3ZM1280.6,445.4 L1279.3,449.3 L1275.3,449.3 L1278.6,451.7 L1277.3,455.5 L1280.6,453.1 L1283.9,455.5 L1282.6,451.7 L1285.9,449.3 L1281.9,449.3ZM1389.6,499.4 L1388.3,503.3 L1384.3,503.3 L1387.6,505.7 L1386.3,509.5 L1389.6,507.1 L1392.9,509.5 L1391.6,505.7 L1394.9,503.3 L1390.9,503.3ZM1498.6,522.4 L1497.3,526.3 L1493.3,526.3 L1496.6,528.7 L1495.3,532.5 L1498.6,530.1 L1501.9,532.5 L1500.6,528.7 L1503.9,526.3 L1499.9,526.3ZM1607.6,555.4 L1606.3,559.3 L1602.3,559.3 L1605.6,561.7 L1604.3,565.5 L1607.6,563.1 L1610.9,565.5 L1609.6,561.7 L1612.9,559.3 L1608.9,559.3ZM1716.6,578.4 L1715.3,582.3 L1711.3,582.3 L1714.6,584.7 L1713.3,588.5 L1716.6,586.1 L1719.9,588.5 L1718.6,584.7 L1721.9,582.3 L1717.9,582.3Z" fill="#a8d4aa" stroke="#a8d4aa" stroke-width="1" opacity="0.95"/>
<polyline points="190.6,767.0 299.6,872.0 408.6,768.0 517.6,769.0 626.6,452.0 735.6,440.5 844.6,431.0 953.6,434.0 1062.6,460.0 1171.6,490.0 1280.6,527.0 1389.6,561.0 1498.6,593.0 1607.6,621.0 1716.6,645.0" fill="none" stroke="#7bc0a6" stroke-width="2.3" stroke-linejoin="round" opacity="0.95"/>
<path d="M190.6,761.4 L189.3,765.3 L185.3,765.3 L188.6,767.7 L187.3,771.5 L190.6,769.1 L193.9,771.5 L192.6,767.7 L195.9,765.3 L191.9,765.3ZM299.6,866.4 L298.3,870.3 L294.3,870.3 L297.6,872.7 L296.3,876.5 L299.6,874.1 L302.9,876.5 L301.6,872.7 L304.9,870.3 L300.9,870.3ZM408.6,762.4 L407.3,766.3 L403.3,766.3 L406.6,768.7 L405.3,772.5 L408.6,770.1 L411.9,772.5 L410.6,768.7 L413.9,766.3 L409.9,766.3ZM517.6,763.4 L516.3,767.3 L512.3,767.3 L515.6,769.7 L514.3,773.5 L517.6,771.1 L520.9,773.5 L519.6,769.7 L522.9,767.3 L518.9,767.3ZM626.6,446.4 L625.3,450.3 L621.3,450.3 L624.6,452.7 L623.3,456.5 L626.6,454.1 L629.9,456.5 L628.6,452.7 L631.9,450.3 L627.9,450.3ZM735.6,434.9 L734.3,438.8 L730.3,438.8 L733.6,441.2 L732.3,445.0 L735.6,442.6 L738.9,445.0 L737.6,441.2 L740.9,438.8 L736.9,438.8ZM844.6,425.4 L843.3,429.3 L839.3,429.3 L842.6,431.7 L841.3,435.5 L844.6,433.1 L847.9,435.5 L846.6,431.7 L849.9,429.3 L845.9,429.3ZM953.6,428.4 L952.3,432.3 L948.3,432.3 L951.6,434.7 L950.3,438.5 L953.6,436.1 L956.9,438.5 L955.6,434.7 L958.9,432.3 L954.9,432.3ZM1062.6,454.4 L1061.3,458.3 L1057.3,458.3 L1060.6,460.7 L1059.3,464.5 L1062.6,462.1 L1065.9,464.5 L1064.6,460.7 L1067.9,458.3 L1063.9,458.3ZM1171.6,484.4 L1170.3,488.3 L1166.3,488.3 L1169.6,490.7 L1168.3,494.5 L1171.6,492.1 L1174.9,494.5 L1173.6,490.7 L1176.9,488.3 L1172.9,488.3ZM1280.6,521.4 L1279.3,525.3 L1275.3,525.3 L1278.6,527.7 L1277.3,531.5 L1280.6,529.1 L1283.9,531.5 L1282.6,527.7 L1285.9,525.3 L1281.9,525.3ZM1389.6,555.4 L1388.3,559.3 L1384.3,559.3 L1387.6,561.7 L1386.3,565.5 L1389.6,563.1 L1392.9,565.5 L1391.6,561.7 L1394.9,559.3 L1390.9,559.3ZM1498.6,587.4 L1497.3,591.3 L1493.3,591.3 L1496.6,593.7 L1495.3,597.5 L1498.6,595.1 L1501.9,597.5 L1500.6,593.7 L1503.9,591.3 L1499.9,591.3ZM1607.6,615.4 L1606.3,619.3 L1602.3,619.3 L1605.6,621.7 L1604.3,625.5 L1607.6,623.1 L1610.9,625.5 L1609.6,621.7 L1612.9,619.3 L1608.9,619.3ZM1716.6,639.4 L1715.3,643.3 L1711.3,643.3 L1714.6,645.7 L1713.3,649.5 L1716.6,647.1 L1719.9,649.5 L1718.6,645.7 L1721.9,643.3 L1717.9,643.3Z" fill="#7bc0a6" stroke="#7bc0a6" stroke-width="1" opacity="0.95"/>
<polyline points="190.6,809.5 299.6,896.0 408.6,829.0 517.6,809.0 626.6,487.0 735.6,466.0 844.6,448.0 953.6,446.6 1062.6,470.5 1171.6,492.0 1280.6,530.0 1389.6,561.0 1498.6,570.0 1607.6,598.0 1716.6,617.0" fill="none" stroke="#559caa" stroke-width="2.3" stroke-linejoin="round" opacity="0.95"/>
<path d="M190.6,803.9 L189.3,807.8 L185.3,807.8 L188.6,810.2 L187.3,814.0 L190.6,811.6 L193.9,814.0 L192.6,810.2 L195.9,807.8 L191.9,807.8ZM299.6,890.4 L298.3,894.3 L294.3,894.3 L297.6,896.7 L296.3,900.5 L299.6,898.1 L302.9,900.5 L301.6,896.7 L304.9,894.3 L300.9,894.3ZM408.6,823.4 L407.3,827.3 L403.3,827.3 L406.6,829.7 L405.3,833.5 L408.6,831.1 L411.9,833.5 L410.6,829.7 L413.9,827.3 L409.9,827.3ZM517.6,803.4 L516.3,807.3 L512.3,807.3 L515.6,809.7 L514.3,813.5 L517.6,811.1 L520.9,813.5 L519.6,809.7 L522.9,807.3 L518.9,807.3ZM626.6,481.4 L625.3,485.3 L621.3,485.3 L624.6,487.7 L623.3,491.5 L626.6,489.1 L629.9,491.5 L628.6,487.7 L631.9,485.3 L627.9,485.3ZM735.6,460.4 L734.3,464.3 L730.3,464.3 L733.6,466.7 L732.3,470.5 L735.6,468.1 L738.9,470.5 L737.6,466.7 L740.9,464.3 L736.9,464.3ZM844.6,442.4 L843.3,446.3 L839.3,446.3 L842.6,448.7 L841.3,452.5 L844.6,450.1 L847.9,452.5 L846.6,448.7 L849.9,446.3 L845.9,446.3ZM953.6,441.0 L952.3,444.9 L948.3,444.9 L951.6,447.3 L950.3,451.1 L953.6,448.7 L956.9,451.1 L955.6,447.3 L958.9,444.9 L954.9,444.9ZM1062.6,464.9 L1061.3,468.8 L1057.3,468.8 L1060.6,471.2 L1059.3,475.0 L1062.6,472.6 L1065.9,475.0 L1064.6,471.2 L1067.9,468.8 L1063.9,468.8ZM1171.6,486.4 L1170.3,490.3 L1166.3,490.3 L1169.6,492.7 L1168.3,496.5 L1171.6,494.1 L1174.9,496.5 L1173.6,492.7 L1176.9,490.3 L1172.9,490.3ZM1280.6,524.4 L1279.3,528.3 L1275.3,528.3 L1278.6,530.7 L1277.3,534.5 L1280.6,532.1 L1283.9,534.5 L1282.6,530.7 L1285.9,528.3 L1281.9,528.3ZM1389.6,555.4 L1388.3,559.3 L1384.3,559.3 L1387.6,561.7 L1386.3,565.5 L1389.6,563.1 L1392.9,565.5 L1391.6,561.7 L1394.9,559.3 L1390.9,559.3ZM1498.6,564.4 L1497.3,568.3 L1493.3,568.3 L1496.6,570.7 L1495.3,574.5 L1498.6,572.1 L1501.9,574.5 L1500.6,570.7 L1503.9,568.3 L1499.9,568.3ZM1607.6,592.4 L1606.3,596.3 L1602.3,596.3 L1605.6,598.7 L1604.3,602.5 L1607.6,600.1 L1610.9,602.5 L1609.6,598.7 L1612.9,596.3 L1608.9,596.3ZM1716.6,611.4 L1715.3,615.3 L1711.3,615.3 L1714.6,617.7 L1713.3,621.5 L1716.6,619.1 L1719.9,621.5 L1718.6,617.7 L1721.9,615.3 L1717.9,615.3Z" fill="#559caa" stroke="#559caa" stroke-width="1" opacity="0.95"/>
<polyline points="190.6,842.0 299.6,909.0 408.6,858.5 517.6,823.0 626.6,547.0 735.6,511.5 844.6,480.0 953.6,476.0 1062.6,497.5 1171.6,512.0 1280.6,531.0 1389.6,561.0 1498.6,566.0 1607.6,582.0 1716.6,597.4" fill="none" stroke="#4876a7" stroke-width="2.3" stroke-linejoin="round" opacity="0.95"/>
<path d="M190.6,836.4 L189.3,840.3 L185.3,840.3 L188.6,842.7 L187.3,846.5 L190.6,844.1 L193.9,846.5 L192.6,842.7 L195.9,840.3 L191.9,840.3ZM299.6,903.4 L298.3,907.3 L294.3,907.3 L297.6,909.7 L296.3,913.5 L299.6,911.1 L302.9,913.5 L301.6,909.7 L304.9,907.3 L300.9,907.3ZM408.6,852.9 L407.3,856.8 L403.3,856.8 L406.6,859.2 L405.3,863.0 L408.6,860.6 L411.9,863.0 L410.6,859.2 L413.9,856.8 L409.9,856.8ZM517.6,817.4 L516.3,821.3 L512.3,821.3 L515.6,823.7 L514.3,827.5 L517.6,825.1 L520.9,827.5 L519.6,823.7 L522.9,821.3 L518.9,821.3ZM626.6,541.4 L625.3,545.3 L621.3,545.3 L624.6,547.7 L623.3,551.5 L626.6,549.1 L629.9,551.5 L628.6,547.7 L631.9,545.3 L627.9,545.3ZM735.6,505.9 L734.3,509.8 L730.3,509.8 L733.6,512.2 L732.3,516.0 L735.6,513.6 L738.9,516.0 L737.6,512.2 L740.9,509.8 L736.9,509.8ZM844.6,474.4 L843.3,478.3 L839.3,478.3 L842.6,480.7 L841.3,484.5 L844.6,482.1 L847.9,484.5 L846.6,480.7 L849.9,478.3 L845.9,478.3ZM953.6,470.4 L952.3,474.3 L948.3,474.3 L951.6,476.7 L950.3,480.5 L953.6,478.1 L956.9,480.5 L955.6,476.7 L958.9,474.3 L954.9,474.3ZM1062.6,491.9 L1061.3,495.8 L1057.3,495.8 L1060.6,498.2 L1059.3,502.0 L1062.6,499.6 L1065.9,502.0 L1064.6,498.2 L1067.9,495.8 L1063.9,495.8ZM1171.6,506.4 L1170.3,510.3 L1166.3,510.3 L1169.6,512.7 L1168.3,516.5 L1171.6,514.1 L1174.9,516.5 L1173.6,512.7 L1176.9,510.3 L1172.9,510.3ZM1280.6,525.4 L1279.3,529.3 L1275.3,529.3 L1278.6,531.7 L1277.3,535.5 L1280.6,533.1 L1283.9,535.5 L1282.6,531.7 L1285.9,529.3 L1281.9,529.3ZM1389.6,555.4 L1388.3,559.3 L1384.3,559.3 L1387.6,561.7 L1386.3,565.5 L1389.6,563.1 L1392.9,565.5 L1391.6,561.7 L1394.9,559.3 L1390.9,559.3ZM1498.6,560.4 L1497.3,564.3 L1493.3,564.3 L1496.6,566.7 L1495.3,570.5 L1498.6,568.1 L1501.9,570.5 L1500.6,566.7 L1503.9,564.3 L1499.9,564.3ZM1607.6,576.4 L1606.3,580.3 L1602.3,580.3 L1605.6,582.7 L1604.3,586.5 L1607.6,584.1 L1610.9,586.5 L1609.6,582.7 L1612.9,580.3 L1608.9,580.3ZM1716.6,591.8 L1715.3,595.7 L1711.3,595.7 L1714.6,598.1 L1713.3,601.9 L1716.6,599.5 L1719.9,601.9 L1718.6,598.1 L1721.9,595.7 L1717.9,595.7Z" fill="#4876a7" stroke="#4876a7" stroke-width="1" opacity="0.95"/>
<polyline points="190.6,873.0 299.6,920.0 408.6,877.0 517.6,832.0 626.6,635.0 735.6,587.0 844.6,533.5 953.6,526.0 1062.6,542.0 1171.6,546.5 1280.6,553.5 1389.6,574.6 1498.6,564.5 1607.6,582.0 1716.6,584.0" fill="none" stroke="#5e5294" stroke-width="2.3" stroke-linejoin="round" opacity="0.95"/>
<path d="M190.6,867.4 L189.3,871.3 L185.3,871.3 L188.6,873.7 L187.3,877.5 L190.6,875.1 L193.9,877.5 L192.6,873.7 L195.9,871.3 L191.9,871.3ZM299.6,914.4 L298.3,918.3 L294.3,918.3 L297.6,920.7 L296.3,924.5 L299.6,922.1 L302.9,924.5 L301.6,920.7 L304.9,918.3 L300.9,918.3ZM408.6,871.4 L407.3,875.3 L403.3,875.3 L406.6,877.7 L405.3,881.5 L408.6,879.1 L411.9,881.5 L410.6,877.7 L413.9,875.3 L409.9,875.3ZM517.6,826.4 L516.3,830.3 L512.3,830.3 L515.6,832.7 L514.3,836.5 L517.6,834.1 L520.9,836.5 L519.6,832.7 L522.9,830.3 L518.9,830.3ZM626.6,629.4 L625.3,633.3 L621.3,633.3 L624.6,635.7 L623.3,639.5 L626.6,637.1 L629.9,639.5 L628.6,635.7 L631.9,633.3 L627.9,633.3ZM735.6,581.4 L734.3,585.3 L730.3,585.3 L733.6,587.7 L732.3,591.5 L735.6,589.1 L738.9,591.5 L737.6,587.7 L740.9,585.3 L736.9,585.3ZM844.6,527.9 L843.3,531.8 L839.3,531.8 L842.6,534.2 L841.3,538.0 L844.6,535.6 L847.9,538.0 L846.6,534.2 L849.9,531.8 L845.9,531.8ZM953.6,520.4 L952.3,524.3 L948.3,524.3 L951.6,526.7 L950.3,530.5 L953.6,528.1 L956.9,530.5 L955.6,526.7 L958.9,524.3 L954.9,524.3ZM1062.6,536.4 L1061.3,540.3 L1057.3,540.3 L1060.6,542.7 L1059.3,546.5 L1062.6,544.1 L1065.9,546.5 L1064.6,542.7 L1067.9,540.3 L1063.9,540.3ZM1171.6,540.9 L1170.3,544.8 L1166.3,544.8 L1169.6,547.2 L1168.3,551.0 L1171.6,548.6 L1174.9,551.0 L1173.6,547.2 L1176.9,544.8 L1172.9,544.8ZM1280.6,547.9 L1279.3,551.8 L1275.3,551.8 L1278.6,554.2 L1277.3,558.0 L1280.6,555.6 L1283.9,558.0 L1282.6,554.2 L1285.9,551.8 L1281.9,551.8ZM1389.6,569.0 L1388.3,572.9 L1384.3,572.9 L1387.6,575.3 L1386.3,579.1 L1389.6,576.7 L1392.9,579.1 L1391.6,575.3 L1394.9,572.9 L1390.9,572.9ZM1498.6,558.9 L1497.3,562.8 L1493.3,562.8 L1496.6,565.2 L1495.3,569.0 L1498.6,566.6 L1501.9,569.0 L1500.6,565.2 L1503.9,562.8 L1499.9,562.8ZM1607.6,576.4 L1606.3,580.3 L1602.3,580.3 L1605.6,582.7 L1604.3,586.5 L1607.6,584.1 L1610.9,586.5 L1609.6,582.7 L1612.9,580.3 L1608.9,580.3ZM1716.6,578.4 L1715.3,582.3 L1711.3,582.3 L1714.6,584.7 L1713.3,588.5 L1716.6,586.1 L1719.9,588.5 L1718.6,584.7 L1721.9,582.3 L1717.9,582.3Z" fill="#5e5294" stroke="#5e5294" stroke-width="1" opacity="0.95"/>
<rect x="115.0" y="25.0" width="1677.5" height="937.5" fill="none" stroke="#505050" stroke-width="2.1"/>
<g stroke="#505050" stroke-width="2.0"><line x1="190.6" y1="962" x2="190.6" y2="969"/><line x1="299.6" y1="962" x2="299.6" y2="969"/><line x1="408.6" y1="962" x2="408.6" y2="969"/><line x1="517.6" y1="962" x2="517.6" y2="969"/><line x1="626.6" y1="962" x2="626.6" y2="969"/><line x1="735.6" y1="962" x2="735.6" y2="969"/><line x1="844.6" y1="962" x2="844.6" y2="969"/><line x1="953.6" y1="962" x2="953.6" y2="969"/><line x1="1062.6" y1="962" x2="1062.6" y2="969"/><line x1="1171.6" y1="962" x2="1171.6" y2="969"/><line x1="1280.6" y1="962" x2="1280.6" y2="969"/><line x1="1389.6" y1="962" x2="1389.6" y2="969"/><line x1="1498.6" y1="962" x2="1498.6" y2="969"/><line x1="1607.6" y1="962" x2="1607.6" y2="969"/><line x1="1716.6" y1="962" x2="1716.6" y2="969"/><line x1="108" y1="928.9" x2="115" y2="928.9"/><line x1="108" y1="803.9" x2="115" y2="803.9"/><line x1="108" y1="678.8" x2="115" y2="678.8"/><line x1="108" y1="553.7" x2="115" y2="553.7"/><line x1="108" y1="428.7" x2="115" y2="428.7"/><line x1="108" y1="303.6" x2="115" y2="303.6"/><line x1="108" y1="178.6" x2="115" y2="178.6"/><line x1="108" y1="53.5" x2="115" y2="53.5"/></g>
<g font-family="Liberation Sans, sans-serif" font-size="20.5" fill="#383838"><text x="190.6" y="990" text-anchor="middle" textLength="12.5" lengthAdjust="spacingAndGlyphs">1</text><text x="299.6" y="990" text-anchor="middle" textLength="12.5" lengthAdjust="spacingAndGlyphs">2</text><text x="408.6" y="990" text-anchor="middle" textLength="12.5" lengthAdjust="spacingAndGlyphs">3</text><text x="517.6" y="990" text-anchor="middle" textLength="12.5" lengthAdjust="spacingAndGlyphs">4</text><text x="626.6" y="990" text-anchor="middle" textLength="12.5" lengthAdjust="spacingAndGlyphs">5</text><text x="735.6" y="990" text-anchor="middle" textLength="12.5" lengthAdjust="spacingAndGlyphs">6</text><text x="844.6" y="990" text-anchor="middle" textLength="12.5" lengthAdjust="spacingAndGlyphs">7</text><text x="953.6" y="990" text-anchor="middle" textLength="12.5" lengthAdjust="spacingAndGlyphs">8</text><text x="1062.6" y="990" text-anchor="middle" textLength="12.5" lengthAdjust="spacingAndGlyphs">9</text><text x="1171.6" y="990" text-anchor="middle" textLength="25.0" lengthAdjust="spacingAndGlyphs">10</text><text x="1280.6" y="990" text-anchor="middle" textLength="25.0" lengthAdjust="spacingAndGlyphs">11</text><text x="1389.6" y="990" text-anchor="middle" textLength="25.0" lengthAdjust="spacingAndGlyphs">12</text><text x="1498.6" y="990" text-anchor="middle" textLength="25.0" lengthAdjust="spacingAndGlyphs">13</text><text x="1607.6" y="990" text-anchor="middle" textLength="25.0" lengthAdjust="spacingAndGlyphs">14</text><text x="1716.6" y="990" text-anchor="middle" textLength="25.0" lengthAdjust="spacingAndGlyphs">15</text><text x="101.0" y="936.5" text-anchor="end" textLength="66.0" lengthAdjust="spacingAndGlyphs">0.0025</text><text x="101.0" y="811.5" text-anchor="end" textLength="66.0" lengthAdjust="spacingAndGlyphs">0.0050</text><text x="101.0" y="686.4" text-anchor="end" textLength="66.0" lengthAdjust="spacingAndGlyphs">0.0075</text><text x="101.0" y="561.3" text-anchor="end" textLength="66.0" lengthAdjust="spacingAndGlyphs">0.0100</text><text x="101.0" y="436.3" text-anchor="end" textLength="66.0" lengthAdjust="spacingAndGlyphs">0.0125</text><text x="101.0" y="311.2" text-anchor="end" textLength="66.0" lengthAdjust="spacingAndGlyphs">0.0150</text><text x="101.0" y="186.2" text-anchor="end" textLength="66.0" lengthAdjust="spacingAndGlyphs">0.0175</text><text x="101.0" y="61.1" text-anchor="end" textLength="66.0" lengthAdjust="spacingAndGlyphs">0.0200</text></g>
<text x="955" y="1033" text-anchor="middle" font-family="Liberation Sans, sans-serif" font-weight="bold" font-size="43" fill="#000" stroke="#000" stroke-width="0.5" textLength="91" lengthAdjust="spacingAndGlyphs">Slot</text>
<text transform="translate(20,491.5) rotate(-90)" x="0" y="0" text-anchor="middle" font-family="Liberation Sans, sans-serif" font-weight="bold" font-size="43" fill="#000" stroke="#000" stroke-width="0.5" textLength="556" lengthAdjust="spacingAndGlyphs">Permutation-aware CTR</text>
<rect x="1803.6" y="27.4" width="145.7" height="501.6" rx="4" ry="4" fill="#fff" fill-opacity="0.85" stroke="#d9d9d9" stroke-width="1.5"/><line x1="1810.4" y1="44.5" x2="1859.1" y2="44.5" stroke="#890c40" stroke-width="2.5" opacity="0.9"/><path d="M1835.0,38.9 L1833.7,42.8 L1829.7,42.8 L1833.0,45.2 L1831.7,49.0 L1835.0,46.6 L1838.3,49.0 L1837.0,45.2 L1840.3,42.8 L1836.3,42.8Z" fill="#890c40" stroke="#890c40" stroke-width="1" opacity="0.9"/><text x="1876" y="52.2" font-family="Liberation Sans, sans-serif" font-size="22.0" fill="#262626" textLength="50.5" lengthAdjust="spacingAndGlyphs">Ad 1</text><line x1="1810.4" y1="77.6" x2="1859.1" y2="77.6" stroke="#b0374f" stroke-width="2.5" opacity="0.9"/><path d="M1835.0,72.0 L1833.7,75.9 L1829.7,75.9 L1833.0,78.3 L1831.7,82.1 L1835.0,79.7 L1838.3,82.1 L1837.0,78.3 L1840.3,75.9 L1836.3,75.9Z" fill="#b0374f" stroke="#b0374f" stroke-width="1" opacity="0.9"/><text x="1876" y="85.3" font-family="Liberation Sans, sans-serif" font-size="22.0" fill="#262626" textLength="50.5" lengthAdjust="spacingAndGlyphs">Ad 2</text><line x1="1810.4" y1="110.7" x2="1859.1" y2="110.7" stroke="#ce5a54" stroke-width="2.5" opacity="0.9"/><path d="M1835.0,105.1 L1833.7,109.0 L1829.7,109.0 L1833.0,111.4 L1831.7,115.2 L1835.0,112.8 L1838.3,115.2 L1837.0,111.4 L1840.3,109.0 L1836.3,109.0Z" fill="#ce5a54" stroke="#ce5a54" stroke-width="1" opacity="0.9"/><text x="1876" y="118.4" font-family="Liberation Sans, sans-serif" font-size="22.0" fill="#262626" textLength="50.5" lengthAdjust="spacingAndGlyphs">Ad 3</text><line x1="1810.4" y1="143.8" x2="1859.1" y2="143.8" stroke="#e27d57" stroke-width="2.5" opacity="0.9"/><path d="M1835.0,138.2 L1833.7,142.1 L1829.7,142.1 L1833.0,144.5 L1831.7,148.3 L1835.0,145.9 L1838.3,148.3 L1837.0,144.5 L1840.3,142.1 L1836.3,142.1Z" fill="#e27d57" stroke="#e27d57" stroke-width="1" opacity="0.9"/><text x="1876" y="151.5" font-family="Liberation Sans, sans-serif" font-size="22.0" fill="#262626" textLength="50.5" lengthAdjust="spacingAndGlyphs">Ad 4</text><line x1="1810.4" y1="176.9" x2="1859.1" y2="176.9" stroke="#eea96f" stroke-width="2.5" opacity="0.9"/><path d="M1835.0,171.3 L1833.7,175.2 L1829.7,175.2 L1833.0,177.6 L1831.7,181.4 L1835.0,179.0 L1838.3,181.4 L1837.0,177.6 L1840.3,175.2 L1836.3,175.2Z" fill="#eea96f" stroke="#eea96f" stroke-width="1" opacity="0.9"/><text x="1876" y="184.6" font-family="Liberation Sans, sans-serif" font-size="22.0" fill="#262626" textLength="50.5" lengthAdjust="spacingAndGlyphs">Ad 5</text><line x1="1810.4" y1="210.0" x2="1859.1" y2="210.0" stroke="#f5cc8b" stroke-width="2.5" opacity="0.9"/><path d="M1835.0,204.4 L1833.7,208.3 L1829.7,208.3 L1833.0,210.7 L1831.7,214.5 L1835.0,212.1 L1838.3,214.5 L1837.0,210.7 L1840.3,208.3 L1836.3,208.3Z" fill="#f5cc8b" stroke="#f5cc8b" stroke-width="1" opacity="0.9"/><text x="1876" y="217.7" font-family="Liberation Sans, sans-serif" font-size="22.0" fill="#262626" textLength="50.5" lengthAdjust="spacingAndGlyphs">Ad 6</text><line x1="1810.4" y1="243.1" x2="1859.1" y2="243.1" stroke="#f9e8a9" stroke-width="2.5" opacity="0.9"/><path d="M1835.0,237.5 L1833.7,241.4 L1829.7,241.4 L1833.0,243.8 L1831.7,247.6 L1835.0,245.2 L1838.3,247.6 L1837.0,243.8 L1840.3,241.4 L1836.3,241.4Z" fill="#f9e8a9" stroke="#f9e8a9" stroke-width="1" opacity="0.9"/><text x="1876" y="250.8" font-family="Liberation Sans, sans-serif" font-size="22.0" fill="#262626" textLength="50.5" lengthAdjust="spacingAndGlyphs">Ad 7</text><line x1="1810.4" y1="276.2" x2="1859.1" y2="276.2" stroke="#fefeca" stroke-width="2.5" opacity="0.9"/><path d="M1835.0,270.6 L1833.7,274.5 L1829.7,274.5 L1833.0,276.9 L1831.7,280.7 L1835.0,278.3 L1838.3,280.7 L1837.0,276.9 L1840.3,274.5 L1836.3,274.5Z" fill="#fefeca" stroke="#fefeca" stroke-width="1" opacity="0.9"/><text x="1876" y="283.9" font-family="Liberation Sans, sans-serif" font-size="22.0" fill="#262626" textLength="50.5" lengthAdjust="spacingAndGlyphs">Ad 8</text><line x1="1810.4" y1="309.3" x2="1859.1" y2="309.3" stroke="#edf5b1" stroke-width="2.5" opacity="0.9"/><path d="M1835.0,303.7 L1833.7,307.6 L1829.7,307.6 L1833.0,310.0 L1831.7,313.8 L1835.0,311.4 L1838.3,313.8 L1837.0,310.0 L1840.3,307.6 L1836.3,307.6Z" fill="#edf5b1" stroke="#edf5b1" stroke-width="1" opacity="0.9"/><text x="1876" y="317.0" font-family="Liberation Sans, sans-serif" font-size="22.0" fill="#262626" textLength="50.5" lengthAdjust="spacingAndGlyphs">Ad 9</text><line x1="1810.4" y1="342.4" x2="1859.1" y2="342.4" stroke="#cfe7a9" stroke-width="2.5" opacity="0.9"/><path d="M1835.0,336.8 L1833.7,340.7 L1829.7,340.7 L1833.0,343.1 L1831.7,346.9 L1835.0,344.5 L1838.3,346.9 L1837.0,343.1 L1840.3,340.7 L1836.3,340.7Z" fill="#cfe7a9" stroke="#cfe7a9" stroke-width="1" opacity="0.9"/><text x="1876" y="350.1" font-family="Liberation Sans, sans-serif" font-size="22.0" fill="#262626" textLength="64.5" lengthAdjust="spacingAndGlyphs">Ad 10</text><line x1="1810.4" y1="375.5" x2="1859.1" y2="375.5" stroke="#a8d4aa" stroke-width="2.5" opacity="0.9"/><path d="M1835.0,369.9 L1833.7,373.8 L1829.7,373.8 L1833.0,376.2 L1831.7,380.0 L1835.0,377.6 L1838.3,380.0 L1837.0,376.2 L1840.3,373.8 L1836.3,373.8Z" fill="#a8d4aa" stroke="#a8d4aa" stroke-width="1" opacity="0.9"/><text x="1876" y="383.2" font-family="Liberation Sans, sans-serif" font-size="22.0" fill="#262626" textLength="64.5" lengthAdjust="spacingAndGlyphs">Ad 11</text><line x1="1810.4" y1="408.6" x2="1859.1" y2="408.6" stroke="#7bc0a6" stroke-width="2.5" opacity="0.9"/><path d="M1835.0,403.0 L1833.7,406.9 L1829.7,406.9 L1833.0,409.3 L1831.7,413.1 L1835.0,410.7 L1838.3,413.1 L1837.0,409.3 L1840.3,406.9 L1836.3,406.9Z" fill="#7bc0a6" stroke="#7bc0a6" stroke-width="1" opacity="0.9"/><text x="1876" y="416.3" font-family="Liberation Sans, sans-serif" font-size="22.0" fill="#262626" textLength="64.5" lengthAdjust="spacingAndGlyphs">Ad 12</text><line x1="1810.4" y1="441.7" x2="1859.1" y2="441.7" stroke="#559caa" stroke-width="2.5" opacity="0.9"/><path d="M1835.0,436.1 L1833.7,440.0 L1829.7,440.0 L1833.0,442.4 L1831.7,446.2 L1835.0,443.8 L1838.3,446.2 L1837.0,442.4 L1840.3,440.0 L1836.3,440.0Z" fill="#559caa" stroke="#559caa" stroke-width="1" opacity="0.9"/><text x="1876" y="449.4" font-family="Liberation Sans, sans-serif" font-size="22.0" fill="#262626" textLength="64.5" lengthAdjust="spacingAndGlyphs">Ad 13</text><line x1="1810.4" y1="474.8" x2="1859.1" y2="474.8" stroke="#4876a7" stroke-width="2.5" opacity="0.9"/><path d="M1835.0,469.2 L1833.7,473.1 L1829.7,473.1 L1833.0,475.5 L1831.7,479.3 L1835.0,476.9 L1838.3,479.3 L1837.0,475.5 L1840.3,473.1 L1836.3,473.1Z" fill="#4876a7" stroke="#4876a7" stroke-width="1" opacity="0.9"/><text x="1876" y="482.5" font-family="Liberation Sans, sans-serif" font-size="22.0" fill="#262626" textLength="64.5" lengthAdjust="spacingAndGlyphs">Ad 14</text><line x1="1810.4" y1="507.9" x2="1859.1" y2="507.9" stroke="#5e5294" stroke-width="2.5" opacity="0.9"/><path d="M1835.0,502.3 L1833.7,506.2 L1829.7,506.2 L1833.0,508.6 L1831.7,512.4 L1835.0,510.0 L1838.3,512.4 L1837.0,508.6 L1840.3,506.2 L1836.3,506.2Z" fill="#5e5294" stroke="#5e5294" stroke-width="1" opacity="0.9"/><text x="1876" y="515.6" font-family="Liberation Sans, sans-serif" font-size="22.0" fill="#262626" textLength="64.5" lengthAdjust="spacingAndGlyphs">Ad 15</text>
<polygon points="0,1109.5 0.9,1109.5 8.2,1124 4.2,1124 0,1116" fill="#000"/>
</g></svg>
</body></html>
